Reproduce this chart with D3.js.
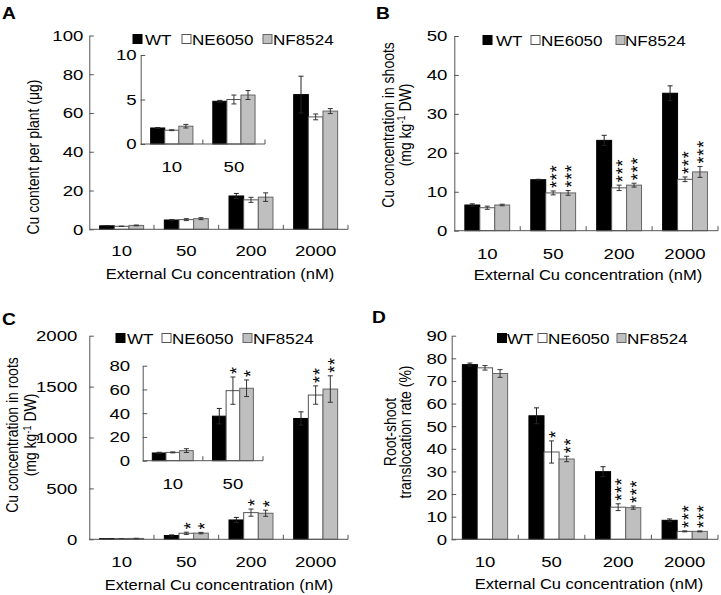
<!DOCTYPE html>
<html><head><meta charset="utf-8">
<script src="https://cdn.jsdelivr.net/npm/d3@7"></script>
<style>
body{margin:0;background:#fff}
svg{display:block}
text{font-family:"Liberation Sans",Arial,Helvetica,sans-serif;fill:#000}
</style>
</head><body>
<svg id="chart" width="721" height="595"></svg>
<script>
// ---------------- DATA ----------------
const categories = ["10", "50", "200", "2000"];
const insetCategories = ["10", "50"];
const series = ["WT", "NE6050", "NF8524"];
const xTitle = "External Cu concentration (nM)";

// Panel A: Cu content per plant (µg)
const aMeans = [[1.8, 1.55, 2.0], [4.8, 5.0, 5.5], [17.2, 15.2, 16.6], [69.5, 58.0, 61.0]];
const aErrs  = [[0.1, 0.05, 0.2], [0.1, 0.5, 0.5], [1.3, 1.3, 2.2], [9.5, 1.5, 1.3]];
const aInsetMeans = [[1.8, 1.55, 2.0], [4.8, 5.0, 5.5]];
const aInsetErrs  = [[0.05, 0.05, 0.2], [0.1, 0.5, 0.5]];
const aTicks = [0, 20, 40, 60, 80, 100];
const aInsetTicks = [0, 5, 10];

// Panel B: Cu concentration in shoots (mg kg-1 DW)
const bMeans = [[6.6, 5.9, 6.6], [13.1, 9.7, 9.7], [23.2, 11.0, 11.7], [35.3, 13.2, 15.1]];
const bErrs  = [[0.3, 0.4, 0.2], [0.1, 0.5, 0.6], [1.3, 0.7, 0.5], [1.9, 0.6, 1.4]];
const bSig   = [["", "", ""], ["", "***", "***"], ["", "***", "***"], ["", "***", "***"]];
const bTicks = [0, 10, 20, 30, 40, 50];

// Panel C: Cu concentration in roots (mg kg-1 DW)
const cMeans = [[6.5, 7, 8.5], [37, 59, 61], [190, 262, 256], [1187, 1417, 1476]];
const cErrs  = [[0.5, 0.3, 1.5], [6.5, 11, 7], [25, 35, 30], [65, 90, 130]];
const cSig   = [["", "", ""], ["", "*", "*"], ["", "*", "*"], ["", "**", "**"]];
const cInsetMeans = [[6.5, 7, 8.5], [37.5, 59, 61]];
const cInsetErrs  = [[0.6, 0.4, 1.6], [6.5, 11.5, 7]];
const cInsetSig   = [["", "", ""], ["", "*", "*"]];
const cTicks = [0, 500, 1000, 1500, 2000];
const cInsetTicks = [0, 20, 40, 60, 80];

// Panel D: Root-shoot translocation rate (%)
const dMeans = [[77.2, 75.8, 73.3], [54.6, 38.6, 35.5], [29.9, 14.2, 14.0], [8.4, 3.5, 3.5]];
const dErrs  = [[0.7, 1.0, 1.7], [3.5, 4.9, 1.2], [2.2, 1.5, 0.7], [0.6, 0.2, 0.2]];
const dSig   = [["", "", ""], ["", "*", "**"], ["", "***", "***"], ["", "***", "***"]];
const dTicks = [0, 10, 20, 30, 40, 50, 60, 70, 80, 90];

// ---------------- STYLE ----------------
const FILLS = ["#000000", "#ffffff", "#bfbfbf"];
const STROKES = ["#000000", "#555555", "#666666"];
const AXIS = "#555555";
const ERR = "#333333";
const FS = 15.5, SX = 1.2;

const svg = d3.select("#chart");

function htext(g, x, y, str, opts = {}) {
  const fs = opts.fs || FS, sx = opts.sx || SX;
  const t = g.append("text")
    .attr("transform", `translate(${x},${y}) scale(${sx},1)`)
    .attr("font-size", fs)
    .attr("text-anchor", opts.anchor || "start")
    .text(str);
  if (opts.bold) t.attr("font-weight", "bold");
  return t;
}

function vtitle(g, x, y, parts, fs) {
  const t = g.append("text")
    .attr("transform", `translate(${x},${y}) rotate(-90) scale(1,1.15)`)
    .attr("font-size", fs)
    .attr("text-anchor", "middle")
    .attr("dy", "0.36em");
  parts.forEach(p => {
    const ts = t.append("tspan").text(p.t);
    if (p.sup) ts.attr("font-size", fs * 0.65).attr("baseline-shift", "super");
  });
}

function drawBars(g, cfg, cats, means, errs, sig) {
  const x = d3.scaleBand().domain(cats).range([cfg.x0, cfg.x1]).padding(0);
  const bw = x.bandwidth();
  const inner = d3.scaleBand().domain(series).range([bw * 0.16, bw * 0.84]).padding(0);
  const y = d3.scaleLinear().domain([0, cfg.max]).range([cfg.y0, cfg.yTop]);

  cats.forEach((c, ci) => {
    series.forEach((s, si) => {
      const v = means[ci][si];
      g.append("rect")
        .attr("x", x(c) + inner(s)).attr("y", y(v))
        .attr("width", inner.bandwidth()).attr("height", y(0) - y(v))
        .attr("fill", FILLS[si]).attr("stroke", STROKES[si]).attr("stroke-width", 1);
    });
  });
  cats.forEach((c, ci) => {
    series.forEach((s, si) => {
      const v = means[ci][si], e = errs[ci][si];
      const cx = x(c) + inner(s) + inner.bandwidth() / 2;
      const yt = y(v + e), yb = y(Math.max(0, v - e));
      const eg = g.append("g").attr("stroke", si === 0 ? "#222" : ERR).attr("stroke-width", 1);
      eg.append("line").attr("x1", cx).attr("x2", cx).attr("y1", yt).attr("y2", yb);
      eg.append("line").attr("x1", cx - 2.5).attr("x2", cx + 2.5).attr("y1", yt).attr("y2", yt);
      eg.append("line").attr("x1", cx - 2.5).attr("x2", cx + 2.5).attr("y1", yb).attr("y2", yb);
      if (sig && sig[ci][si]) {
        // stacked asterisks drawn as one vertical string
        g.append("text")
          .attr("transform", `translate(${cx},${yt - 3}) rotate(-90)`)
          .attr("font-size", 18).attr("dy", "0.57em").attr("letter-spacing", 0.8)
          .attr("text-anchor", "start").text(sig[ci][si]);
      }
    });
  });

  const ax = g.append("g").attr("transform", `translate(${cfg.x0},0)`)
    .call(d3.axisLeft(y).tickValues(cfg.ticks).tickFormat(d3.format("d"))
      .tickSizeInner(-4.5).tickSizeOuter(0).tickPadding(cfg.tickGap));
  ax.attr("font-family", null).attr("font-size", null);
  ax.select(".domain").attr("stroke", AXIS);
  ax.selectAll(".tick line").attr("stroke", AXIS);
  ax.selectAll(".tick text").each(function () {
    const t = d3.select(this);
    const tx = +t.attr("x");
    t.attr("font-size", FS)
      .attr("transform", `translate(${tx - SX * tx},0) scale(${SX},1)`);
  });

  const xg = g.append("g").attr("stroke", AXIS).attr("stroke-width", 1);
  xg.append("line").attr("x1", cfg.x0).attr("x2", cfg.x1).attr("y1", cfg.y0).attr("y2", cfg.y0);
  cats.forEach(c => {
    const bx = x(c) + bw;
    xg.append("line").attr("x1", bx).attr("x2", bx).attr("y1", cfg.y0).attr("y2", cfg.y0 - 4.5);
  });
  cats.forEach(c => {
    htext(g, x(c) + bw / 2, cfg.labelY, c, { anchor: "middle", fs: FS, sx: 1.2 });
  });
}

function legend(g, L) {
  series.forEach((s, i) => {
    g.append("rect").attr("x", L.sq[i]).attr("y", L.y - 4.5).attr("width", 9).attr("height", 9)
      .attr("fill", FILLS[i]).attr("stroke", STROKES[i]);
    htext(g, L.tx[i], L.y + 5.5, s, { fs: 15.5, sx: 1.1 });
  });
}

const panels = [
  { letter: "A", lx: 2, ly: 18.5, means: aMeans, errs: aErrs, sig: null, ticks: aTicks, max: 100,
    x0: 89.3, x1: 348, yTop: 35.5, y0: 229.3, tickGap: 6, labelY: 255.5, titleX: 220, titleY: 279,
    ytitle: [{ x: 33, parts: [{ t: "Cu content per plant (μg)" }] }], ytY: 157,
    legend: { y: 39, sq: [133, 182, 263], tx: [145, 192, 273] },
    inset: { means: aInsetMeans, errs: aInsetErrs, sig: null, ticks: aInsetTicks, max: 10,
      x0: 140.7, x1: 265, yTop: 55, y0: 144, tickGap: 4, labelY: 171.5 } },
  { letter: "B", lx: 376, ly: 18.5, means: bMeans, errs: bErrs, sig: bSig, ticks: bTicks, max: 50,
    x0: 454.3, x1: 718, yTop: 36, y0: 230.7, tickGap: 7, labelY: 258.5, titleX: 588, titleY: 280,
    ytitle: [{ x: 388, parts: [{ t: "Cu concentration in shoots" }] },
             { x: 405, parts: [{ t: "(mg kg" }, { t: "-1", sup: true }, { t: " DW)" }] }], ytY: 125,
    legend: { y: 40, sq: [483, 531, 616], tx: [496, 541, 625] } },
  { letter: "C", lx: 2, ly: 325, means: cMeans, errs: cErrs, sig: cSig, ticks: cTicks, max: 2000,
    x0: 89.3, x1: 348, yTop: 335.7, y0: 539.3, tickGap: 12, labelY: 567, titleX: 219, titleY: 590,
    ytitle: [{ x: 12, parts: [{ t: "Cu concentration in roots" }] },
             { x: 30.5, parts: [{ t: "(mg kg" }, { t: "-1", sup: true }, { t: " DW)" }] }], ytY: 435,
    legend: { y: 338, sq: [116, 162, 243], tx: [127, 172, 253] },
    inset: { means: cInsetMeans, errs: cInsetErrs, sig: cInsetSig, ticks: cInsetTicks, max: 80,
      x0: 142.7, x1: 263, yTop: 365.7, y0: 460.7, tickGap: 12.5, labelY: 488.5 } },
  { letter: "D", lx: 372, ly: 323, means: dMeans, errs: dErrs, sig: dSig, ticks: dTicks, max: 90,
    x0: 451.7, x1: 718, yTop: 335.7, y0: 539.3, tickGap: 4.5, labelY: 567, titleX: 589, titleY: 588.5,
    ytitle: [{ x: 390, parts: [{ t: "Root-shoot" }] },
             { x: 405.5, parts: [{ t: "translocation rate (%)" }] }], ytY: 432,
    legend: { y: 338, sq: [497.5, 538, 617], tx: [507, 548, 627] } }
];

panels.forEach(p => {
  const g = svg.append("g");
  htext(g, p.lx, p.ly, p.letter, { fs: 16, sx: 1.2, bold: true });
  drawBars(g, p, categories, p.means, p.errs, p.sig);
  if (p.inset) {
    drawBars(g.append("g"), p.inset, insetCategories, p.inset.means, p.inset.errs, p.inset.sig);
  }
  legend(g, p.legend);
  htext(g, p.titleX, p.titleY, xTitle, { anchor: "middle", fs: 14.5, sx: 1.14 });
  p.ytitle.forEach(l => vtitle(g, l.x, p.ytY, l.parts, 14));
});
</script>
</body></html>
